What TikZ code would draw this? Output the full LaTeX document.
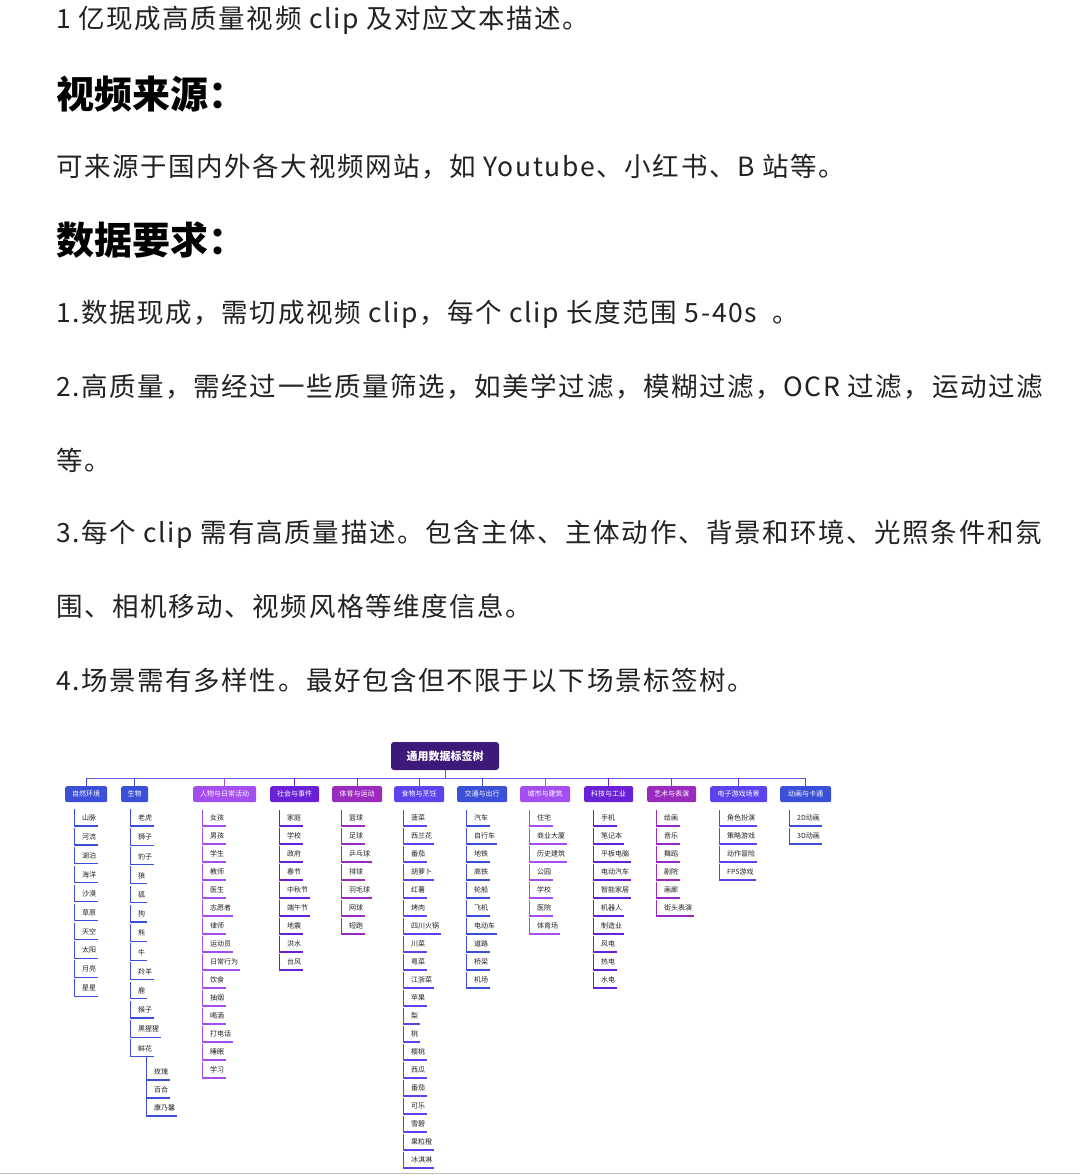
\documentclass[tikz,border=0pt]{standalone}
\usepackage{fontspec}
\setmainfont{Noto Sans CJK SC}
\newfontfamily\bodyfont[LetterSpace=6]{Noto Sans CJK SC}
\usetikzlibrary{calc}
\definecolor{cA}{HTML}{3B4FD8}
\definecolor{cB}{HTML}{A44DF0}
\definecolor{cC}{HTML}{6A1FD9}
\definecolor{cD}{HTML}{9B2BC0}
\definecolor{cE}{HTML}{5B44F0}
\definecolor{root}{HTML}{3D1A7A}
\definecolor{txt}{HTML}{222222}
\definecolor{bus}{HTML}{6A5AE0}
\newcommand\mycat[7]{% id, left, width, color, label, spacing, list
  \node[catbox, fill=#4, minimum width=#3pt, anchor=north west] (#1) at (#2pt,-786pt) {#5};
  \draw[#4, line width=1pt] (#1.north) -- ++(0,8pt);
  \foreach \t [count=\i] in {#7} {
    \pgfmathsetmacro\yy{-818-(\i-1)*#6}
    \node[itemtxt, anchor=west] (#1-\i) at (#2pt+15pt, \yy pt) {\t};
    \coordinate (#1-u\i) at (#2pt+9pt, \yy pt-8pt);
    \draw[#4, line width=0.9pt] (#2pt+9pt, \yy pt+#6pt-10pt) -- (#1-u\i);
    \draw[#4, line width=1.2pt] (#1-u\i) -- (#1-u\i -| #1-\i.east);
  }
}
\begin{document}
\begin{tikzpicture}[x=1pt,y=1pt,
  body/.style={anchor=west, inner sep=0pt, font=\bodyfont\fontsize{26.5}{30}\selectfont, text=txt},
  head/.style={anchor=west, inner sep=0pt, font=\fontsize{38}{44}\selectfont\bfseries, text=black},
  catbox/.style={rounded corners=2pt, minimum height=16pt, inner sep=1pt, text=white, font=\fontsize{7}{8}\selectfont},
  itemtxt/.style={inner sep=2pt, font=\fontsize{7}{8}\selectfont, text=txt}]
\useasboundingbox[fill=white] (0,0) rectangle (1080,-1176);
\node[body] (l1) at (56,-20) {1 亿现成高质量视频 clip 及对应文本描述。};
\node[head] (h1) at (56,-94) {视频来源：};
\node[body] (l2) at (56,-167) {可来源于国内外各大视频网站，如 Youtube、小红书、B 站等。};
\node[head] (h2) at (56,-240) {数据要求：};
\node[body] (l3) at (56,-314) {1.数据现成，需切成视频 clip，每个 clip 长度范围 5-40s \ 。};
\node[body] (l4) at (56,-387) {2.高质量，需经过一些质量筛选，如美学过滤，模糊过滤，OCR 过滤，运动过滤};
\node[body] (l5) at (56,-460) {等。};
\node[body] (l6) at (56,-534) {3.每个 clip 需有高质量描述。包含主体、主体动作、背景和环境、光照条件和氛};
\node[body] (l7) at (56,-606) {围、相机移动、视频风格等维度信息。};
\node[body] (l8) at (56,-680) {4.场景需有多样性。最好包含但不限于以下场景标签树。};
% tree
\node[rounded corners=3pt, fill=root, text=white, minimum width=108pt, minimum height=28pt, font=\fontsize{11}{13}\selectfont\bfseries] (rt) at (445,-756) {通用数据标签树};
\draw[bus, line width=1pt] (rt.south) -- (445,-778);
\draw[bus, line width=1pt] (86,-778) -- (806,-778);
\mycat{a}{65}{42}{cA}{自然环境}{18.9}{山脉,河流,湖泊,海洋,沙漠,草原,天空,太阳,月亮,星星}
\mycat{b}{121}{27}{cA}{生物}{19.2}{老虎,狮子,豹子,狼,狐,狗,熊,牛,羚羊,鹿,猴子,黑猩猩,鲜花}
\mycat{c}{193}{63}{cB}{人物与日常活动}{18}{女孩,男孩,学生,教师,医生,志愿者,律师,运动员,日常行为,饮食,抽烟,喝酒,打电话,睡眠,学习}
\mycat{d}{270}{49}{cC}{社会与事件}{18}{家庭,学校,政府,春节,中秋节,端午节,地震,洪水,台风}
\mycat{e}{332}{50}{cD}{体育与运动}{18}{篮球,足球,乒乓球,排球,羽毛球,网球,短跑}
\mycat{f}{394}{50}{cE}{食物与烹饪}{18}{菠菜,西兰花,番茄,胡萝卜,红薯,烤肉,四川火锅,川菜,粤菜,江浙菜,苹果,梨,桃,樱桃,西瓜,番茄,可乐,雪碧,果粒橙,冰淇淋}
\mycat{g}{457}{50}{cA}{交通与出行}{18}{汽车,自行车,地铁,高铁,轮船,飞机,电动车,道路,桥梁,机场}
\mycat{h}{520}{50}{cB}{城市与建筑}{18}{住宅,商业大厦,历史建筑,公园,学校,医院,体育场}
\mycat{i}{584}{49}{cC}{科技与工业}{18}{手机,笔记本,平板电脑,电动汽车,智能家居,机器人,制造业,风电,热电,水电}
\mycat{j}{647}{49}{cD}{艺术与表演}{18}{绘画,音乐,舞蹈,剧院,画廊,街头表演}
\mycat{k}{710}{57}{cE}{电子游戏场景}{18}{角色扮演,策略游戏,动作冒险,FPS游戏}
\mycat{l}{780}{51}{cA}{动画与卡通}{18}{2D动画,3D动画}
% sub-list of 鲜花
\foreach \t [count=\i] in {玫瑰,百合,康乃馨} {
  \pgfmathsetmacro\yy{-1072-(\i-1)*18}
  \node[itemtxt, anchor=west] (m-\i) at (152pt, \yy pt) {\t};
  \coordinate (m-u\i) at (146pt, \yy pt-8pt);
  \draw[cA, line width=0.9pt] (146pt, \yy pt+10pt) -- (m-u\i);
  \draw[cA, line width=1.2pt] (m-u\i) -- (m-u\i -| m-\i.east);
}
\draw[cA, line width=0.9pt] (146,-1056) -- (146,-1064);
\draw[gray!50, line width=1pt] (0,-1173) -- (1080,-1173);
\end{tikzpicture}
\end{document}
